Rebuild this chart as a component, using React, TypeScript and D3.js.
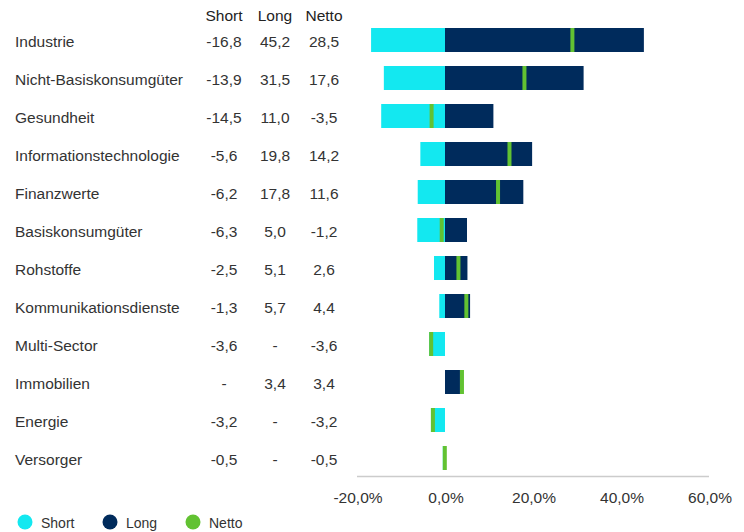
import React from "react";
import * as d3 from "d3";

const categories = [
  "Industrie",
  "Nicht-Basiskonsumgüter",
  "Gesundheit",
  "Informationstechnologie",
  "Finanzwerte",
  "Basiskonsumgüter",
  "Rohstoffe",
  "Kommunikationsdienste",
  "Multi-Sector",
  "Immobilien",
  "Energie",
  "Versorger",
];
const shortValues: (number | null)[] = [-16.8, -13.9, -14.5, -5.6, -6.2, -6.3, -2.5, -1.3, -3.6, null, -3.2, -0.5];
const longValues: (number | null)[] = [45.2, 31.5, 11.0, 19.8, 17.8, 5.0, 5.1, 5.7, null, 3.4, null, null];
const nettoValues: number[] = [28.5, 17.6, -3.5, 14.2, 11.6, -1.2, 2.6, 4.4, -3.6, 3.4, -3.2, -0.5];
const xTicks = [-20, 0, 20, 40, 60];
const seriesNames = ["Short", "Long", "Netto"];

const COLORS = { Short: "#13E8F0", Long: "#002B5C", Netto: "#62C232" };
const TEXT = "#333333";
const FONT = "'Liberation Sans', Arial, Helvetica, sans-serif";
const FS = 15.5;

const locale = d3.formatLocale({
  decimal: ",",
  thousands: ".",
  grouping: [3],
  currency: ["", "€"],
  minus: "-",
});
const f1 = locale.format(".1f");
const fmt = (v: number | null) => (v === null ? "-" : f1(v));

export default function App() {
  const width = 744;
  const height = 532;
  const x = d3.scaleLinear().domain([-20, 60]).range([357, 709]);
  const y = d3
    .scaleBand<string>()
    .domain(categories)
    .range([21, 477])
    .paddingInner(14 / 38)
    .paddingOuter(7 / 38);
  const bw = y.bandwidth();
  const colX = { Short: 224, Long: 275, Netto: 324 };
  const markerW = 4;

  return (
    <svg
      width={width}
      height={height}
      style={{ position: "absolute", left: 0, top: 0 }}
      fontFamily={FONT}
    >
      {/* column headers */}
      {seriesNames.map((s) => (
        <text key={s} x={colX[s as keyof typeof colX]} y={21} textAnchor="middle" fontSize={FS} fill="#222">
          {s}
        </text>
      ))}
      {categories.map((c, i) => {
        const y0 = y(c)!;
        const cy = y0 + bw / 2;
        const s = shortValues[i];
        const l = longValues[i];
        const n = nettoValues[i];
        const ty = cy + 7;
        return (
          <g key={c}>
            <text x={15} y={ty} fontSize={FS} fill={TEXT}>
              {c}
            </text>
            <text x={colX.Short} y={ty} fontSize={FS} fill={TEXT} textAnchor="middle">
              {fmt(s)}
            </text>
            <text x={colX.Long} y={ty} fontSize={FS} fill={TEXT} textAnchor="middle">
              {fmt(l)}
            </text>
            <text x={colX.Netto} y={ty} fontSize={FS} fill={TEXT} textAnchor="middle">
              {fmt(n)}
            </text>
            {s !== null && (
              <rect x={x(s)} y={y0} width={x(0) - x(s)} height={bw} fill={COLORS.Short} />
            )}
            {l !== null && (
              <rect x={x(0)} y={y0} width={x(l) - x(0)} height={bw} fill={COLORS.Long} />
            )}
            <rect x={x(n)} y={y0} width={markerW} height={bw} fill={COLORS.Netto} />
          </g>
        );
      })}
      {/* axis */}
      <line x1={x(-20)} x2={x(60)} y1={476.5} y2={476.5} stroke="#cccccc" strokeWidth={1.5} />
      {xTicks.map((t) => (
        <text key={t} x={x(t) + 1} y={503} textAnchor="middle" fontSize={FS} fill={TEXT}>
          {f1(t) + "%"}
        </text>
      ))}
      {/* legend */}
      {seriesNames.map((s, i) => {
        const cxs = [25, 110, 193];
        return (
          <g key={s}>
            <circle cx={cxs[i]} cy={522} r={7.5} fill={COLORS[s as keyof typeof COLORS]} />
            <text x={cxs[i] + 16} y={527.5} fontSize={14} fill={TEXT}>
              {s}
            </text>
          </g>
        );
      })}
    </svg>
  );
}
